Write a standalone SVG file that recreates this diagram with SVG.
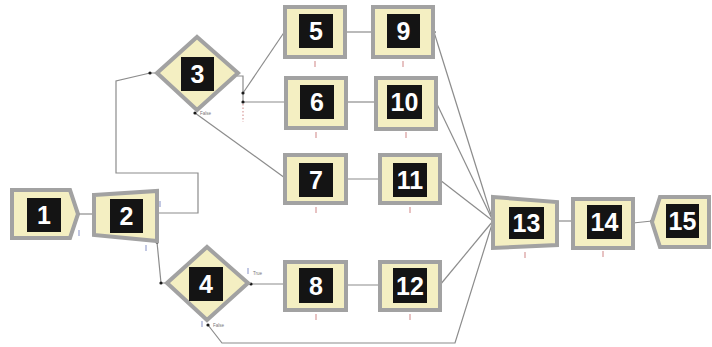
<svg xmlns="http://www.w3.org/2000/svg" width="712" height="347" viewBox="0 0 712 347">
  <defs>
    <style>
      .shape { fill: #f4efc2; stroke: #a2a2a2; stroke-width: 4; stroke-linejoin: miter; }
      .rim { fill: none; stroke: #d4d4d0; stroke-width: 1; }
      .box { fill: #141414; }
      .num { fill: #ffffff; font-family: "Liberation Sans", Arial, sans-serif; font-weight: bold; font-size: 25px; text-anchor: middle; }
      .wire { fill: none; stroke: #8c8c8c; stroke-width: 1.2; }
      .dot { fill: #1a1a1a; }
      .tick { stroke: #d79a9a; stroke-width: 1.2; }
      .btick { stroke: #9aa4d0; stroke-width: 1.2; }
      .tag { fill: #777777; font-family: "Liberation Sans", Arial, sans-serif; font-size: 4.5px; }
    </style>
  </defs>
  <rect width="712" height="347" fill="#ffffff"/>

  <!-- connectors -->
  <g id="connectors">
    <path class="wire" d="M78,214 L94,214"/>
    <path class="wire" d="M157,213 H198 V173 H116 V81 L150,73 L157,73"/>
    <path class="wire" d="M157,242 L161,283 L167,283"/>
    <path class="wire" d="M237,76 H243 V102"/>
    <path class="wire" d="M243,93 L285,31"/>
    <path class="wire" d="M243,102 L286,102"/>
    <path class="wire" d="M195,113 L285,178"/>
    <path class="wire" d="M248,284 L285,284"/>
    <path class="wire" d="M208,325 L222,343 L455,343 L493,221"/>
    <path class="wire" d="M345,32 L373,32"/>
    <path class="wire" d="M346,102 L376,102"/>
    <path class="wire" d="M346,179 L380,179"/>
    <path class="wire" d="M346,285 L380,285"/>
    <path class="wire" d="M434,32 L493,221"/>
    <path class="wire" d="M436,102 L493,221"/>
    <path class="wire" d="M440,180 L493,221"/>
    <path class="wire" d="M440,285 L493,221"/>
    <path class="wire" d="M557,221 L573,221"/>
    <path class="wire" d="M633,223 L652,221"/>
    <path class="tick" d="M243,104 V122" stroke-dasharray="1.5,2"/>
    <g>
      <circle class="dot" cx="78" cy="214" r="1.6"/>
      <circle class="dot" cx="94" cy="214" r="1.6"/>
      <circle class="dot" cx="157" cy="213" r="1.6"/>
      <circle class="dot" cx="150" cy="73" r="1.6"/>
      <circle class="dot" cx="157" cy="242" r="1.6"/>
      <circle class="dot" cx="161" cy="283" r="1.6"/>
      <circle class="dot" cx="243" cy="93" r="1.6"/>
      <circle class="dot" cx="243" cy="102" r="1.6"/>
      <circle class="dot" cx="285" cy="31" r="1.6"/>
      <circle class="dot" cx="286" cy="102" r="1.6"/>
      <circle class="dot" cx="195" cy="113" r="1.6"/>
      <circle class="dot" cx="285" cy="178" r="1.6"/>
      <circle class="dot" cx="251" cy="284" r="1.6"/>
      <circle class="dot" cx="285" cy="284" r="1.6"/>
      <circle class="dot" cx="208" cy="325" r="1.6"/>
      <circle class="dot" cx="345" cy="32" r="1.6"/>
      <circle class="dot" cx="373" cy="32" r="1.6"/>
      <circle class="dot" cx="346" cy="102" r="1.6"/>
      <circle class="dot" cx="376" cy="102" r="1.6"/>
      <circle class="dot" cx="346" cy="179" r="1.6"/>
      <circle class="dot" cx="380" cy="179" r="1.6"/>
      <circle class="dot" cx="346" cy="285" r="1.6"/>
      <circle class="dot" cx="380" cy="285" r="1.6"/>
      <circle class="dot" cx="434" cy="32" r="1.6"/>
      <circle class="dot" cx="436" cy="102" r="1.6"/>
      <circle class="dot" cx="440" cy="180" r="1.6"/>
      <circle class="dot" cx="440" cy="285" r="1.6"/>
      <circle class="dot" cx="493" cy="221" r="1.6"/>
      <circle class="dot" cx="557" cy="221" r="1.6"/>
      <circle class="dot" cx="573" cy="221" r="1.6"/>
      <circle class="dot" cx="633" cy="223" r="1.6"/>
      <circle class="dot" cx="652" cy="221" r="1.6"/>
    </g>
    <text class="tag" x="200" y="115">False</text>
    <text class="tag" x="253" y="275">True</text>
    <text class="tag" x="213" y="327">False</text>
  </g>

  <!-- counter marks -->
  <g id="marks">
    <path class="btick" d="M79,230 V236"/>
    <path class="btick" d="M160,201 V207 M146,245 V251"/>
    <path class="btick" d="M248,268 V274 M202,321 V327"/>
    <path class="tick" d="M315,61 V67 M403,61 V67 M316,132 V138 M406,132 V138 M316,207 V213 M410,207 V213 M316,314 V320 M410,314 V320 M525,252 V258 M603,251 V257"/>
  </g>

  <g id="node1">
    <polygon class="shape" points="12,190 70,190 78,214 70,238 12,238"/>
    <rect class="box" x="27" y="198" width="34" height="34"/>
    <text class="num" x="44" y="224">1</text>
  </g>
  <g id="node2">
    <polygon class="shape" points="94,195 157,191 157,241 94,235"/>
    <rect class="box" x="110" y="199" width="33" height="34"/>
    <text class="num" x="126.5" y="225">2</text>
  </g>
  <g id="node3">
    <polygon class="shape" points="157,73 197,37 238,73 197,110"/>
    <rect class="box" x="181" y="57" width="33" height="34"/>
    <text class="num" x="197.5" y="83">3</text>
  </g>
  <g id="node4">
    <polygon class="shape" points="167,283 207,247 248,283 207,320"/>
    <rect class="box" x="189" y="267" width="34" height="34"/>
    <text class="num" x="206" y="293">4</text>
  </g>
  <g id="node5">
    <rect class="shape" x="285" y="7" width="60" height="50"/>
    <rect class="box" x="299" y="14" width="34" height="34"/>
    <text class="num" x="316" y="40">5</text>
  </g>
  <g id="node6">
    <rect class="shape" x="286" y="78" width="60" height="50"/>
    <rect class="box" x="300" y="85" width="34" height="34"/>
    <text class="num" x="317" y="111">6</text>
  </g>
  <g id="node7">
    <rect class="shape" x="285" y="155" width="61" height="48"/>
    <rect class="box" x="299" y="163" width="34" height="34"/>
    <text class="num" x="316" y="189">7</text>
  </g>
  <g id="node8">
    <rect class="shape" x="285" y="262" width="61" height="48"/>
    <rect class="box" x="299" y="268" width="34" height="35"/>
    <text class="num" x="316" y="294.5">8</text>
  </g>
  <g id="node9">
    <rect class="shape" x="373" y="7" width="60" height="50"/>
    <rect class="box" x="387" y="14" width="33" height="34"/>
    <text class="num" x="403.5" y="40">9</text>
  </g>
  <g id="node10">
    <rect class="shape" x="376" y="78" width="60" height="51"/>
    <rect class="box" x="387" y="85" width="35" height="34"/>
    <text class="num" x="404.5" y="111">10</text>
  </g>
  <g id="node11">
    <rect class="shape" x="380" y="155" width="60" height="48"/>
    <rect class="box" x="393" y="163" width="34" height="34"/>
    <text class="num" x="410" y="189">11</text>
  </g>
  <g id="node12">
    <rect class="shape" x="380" y="262" width="60" height="48"/>
    <rect class="box" x="393" y="268" width="34" height="35"/>
    <text class="num" x="410" y="294.5">12</text>
  </g>
  <g id="node13">
    <polygon class="shape" points="493,197 557,202 557,245 493,248"/>
    <rect class="box" x="509" y="207" width="35" height="32"/>
    <text class="num" x="526.5" y="232">13</text>
  </g>
  <g id="node14">
    <rect class="shape" x="573" y="199" width="60" height="49"/>
    <rect class="box" x="587" y="205" width="35" height="34"/>
    <text class="num" x="604.5" y="231">14</text>
  </g>
  <g id="node15">
    <polygon class="shape" points="660,197 709,197 709,247 660,247 652,222"/>
    <rect class="box" x="666" y="204" width="33" height="34"/>
    <text class="num" x="682.5" y="230">15</text>
  </g>
</svg>
